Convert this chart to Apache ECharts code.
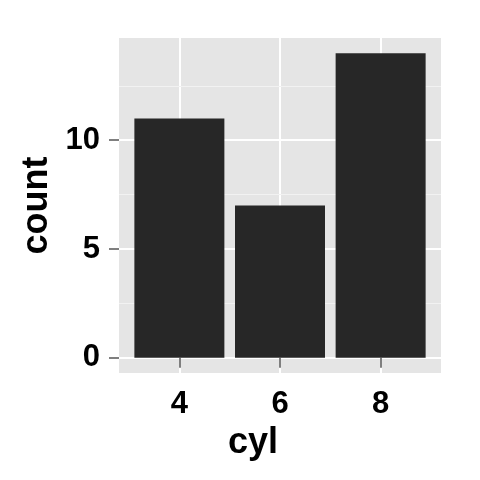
<!DOCTYPE html>
<html>
<head>
<meta charset="utf-8">
<script src="https://cdn.jsdelivr.net/npm/echarts@6/dist/echarts.min.js"></script>
<style>
  html, body { margin: 0; padding: 0; background: #ffffff; }
  #main { width: 480px; height: 480px; }
</style>
</head>
<body>
<div id="main"></div>
<script>
// 数据
var cylValues = [4, 6, 8];
var countValues = [11, 7, 14];
var yTicks = [0, 5, 10];
var yMinorTicks = [2.5, 7.5, 12.5];

var main = document.getElementById('main');
var chart = echarts.init(main);

var font = 'Liberation Sans';

var barData = cylValues.map(function (c, i) {
    return [c, countValues[i]];
});

var option = {
    animation: false,
    grid: {
        left: 119,
        right: 39,
        top: 38,
        bottom: 107,
        show: true,
        backgroundColor: '#e5e5e5',
        borderWidth: 0
    },
    xAxis: {
        type: 'value',
        // 离散轴两侧各留 0.6 个间隔
        min: 2.8,
        max: 9.2,
        name: 'cyl',
        nameLocation: 'middle',
        nameGap: 42,
        nameTextStyle: {
            fontFamily: font, fontSize: 36, fontWeight: 'bold', color: '#000',
            padding: [0, 54, 0, 0]
        },
        axisLine: { show: false },
        axisTick: {
            customValues: cylValues,
            length: 10,
            lineStyle: { color: '#7f7f7f', width: 2 }
        },
        axisLabel: {
            customValues: cylValues,
            margin: 16,
            fontFamily: font, fontSize: 31, fontWeight: 'bold', color: '#000'
        },
        splitLine: { show: true, lineStyle: { color: '#ffffff', width: 2 } }
    },
    yAxis: {
        type: 'value',
        min: -0.7,
        max: 14.7,
        name: 'count',
        nameLocation: 'middle',
        nameGap: 55,
        nameTextStyle: { fontFamily: font, fontSize: 36, fontWeight: 'bold', color: '#000' },
        axisLine: { show: false },
        axisTick: {
            customValues: yTicks,
            length: 10,
            lineStyle: { color: '#7f7f7f', width: 2 }
        },
        axisLabel: {
            customValues: yTicks,
            margin: 19,
            fontFamily: font, fontSize: 31, fontWeight: 'bold', color: '#000'
        },
        splitLine: { show: true, lineStyle: { color: '#ffffff', width: 2 } }
    },
    series: [
        {
            // 次网格线
            type: 'line',
            data: [],
            z: 1,
            silent: true,
            markLine: {
                silent: true,
                z: 1,
                symbol: 'none',
                label: { show: false },
                lineStyle: { color: '#f2f2f2', width: 1, type: 'solid' },
                data: yMinorTicks.map(function (v) { return { yAxis: v }; })
            }
        },
        {
            type: 'bar',
            data: barData,
            barWidth: 90,
            z: 3,
            itemStyle: { color: '#272727' }
        }
    ]
};

chart.setOption(option);
</script>
</body>
</html>
